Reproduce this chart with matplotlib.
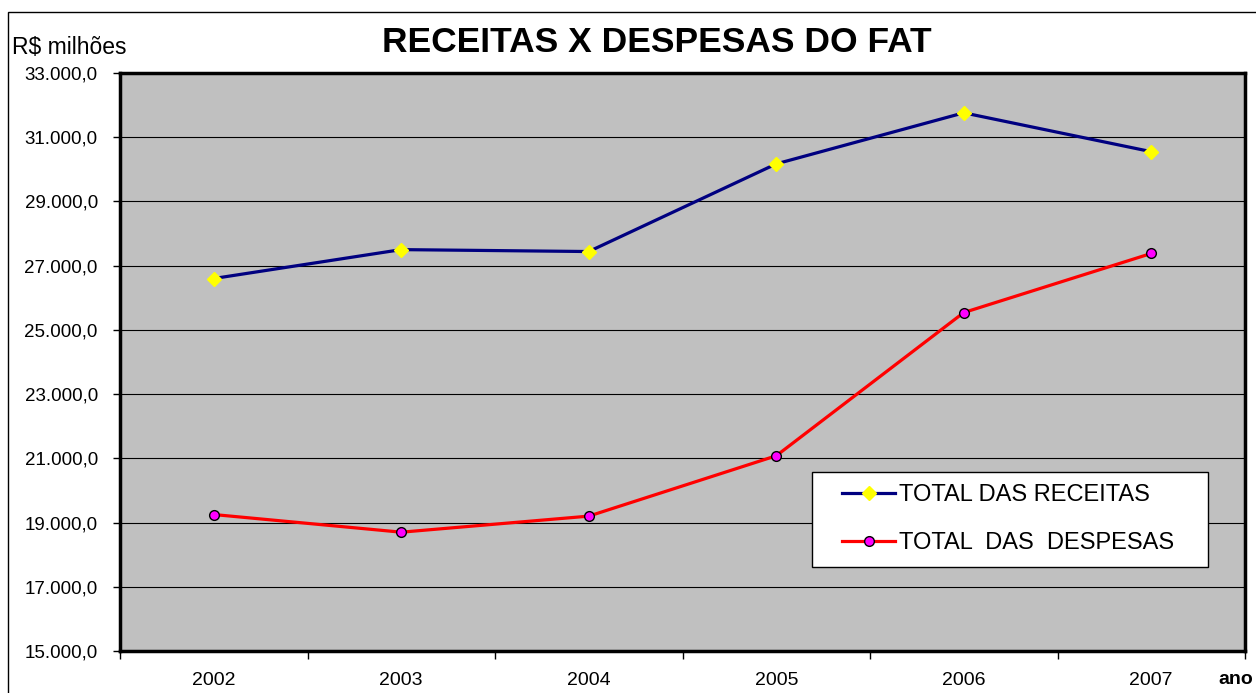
import matplotlib.pyplot as plt
from matplotlib.patches import Rectangle
from matplotlib.ticker import FuncFormatter, FixedLocator, NullFormatter

plt.rcParams['font.family'] = ['Liberation Sans', 'DejaVu Sans']

anos = ['2002', '2003', '2004', '2005', '2006', '2007']
receitas = [26600, 27500, 27440, 30170, 31760, 30550]
despesas = [19250, 18700, 19200, 21080, 25540, 27380]


def formato_br(v, pos):
    s = f"{v:,.1f}"
    return s.replace(',', 'X').replace('.', ',').replace('X', '.')


fig = plt.figure(figsize=(12.56, 6.93), dpi=100)
ax = fig.add_axes([120 / 1256, 1 - 651 / 693, (1245 - 120) / 1256, (651 - 73) / 693])
ax.set_facecolor('#c0c0c0')

# moldura externa do grafico
fig.patches.append(Rectangle((8 / 1256, -0.05), 1.1, 1 - 12 / 693 + 0.05,
                             transform=fig.transFigure, fill=False,
                             edgecolor='black', linewidth=1, zorder=0))

x = range(len(anos))
ax.plot(x, receitas, color='#000080', linewidth=2.3, marker='D', markersize=7.5,
        markerfacecolor='#ffff00', markeredgecolor='#ffff00',
        label='TOTAL DAS RECEITAS', zorder=3)
ax.plot(x, despesas, color='#ff0000', linewidth=2.3, marker='o', markersize=7,
        markerfacecolor='#ff00ff', markeredgecolor='black', markeredgewidth=1,
        label='TOTAL  DAS  DESPESAS', zorder=3)

ax.set_xlim(-0.5, len(anos) - 0.5)
ax.set_ylim(15000, 33000)
ax.set_yticks(range(15000, 33001, 2000))
ax.yaxis.set_major_formatter(FuncFormatter(formato_br))
ax.grid(True, axis='y', color='black', linewidth=0.8)
ax.set_axisbelow(True)

ax.set_xticks(list(x))
ax.set_xticklabels(anos)
ax.xaxis.set_minor_locator(FixedLocator([i - 0.5 for i in range(len(anos) + 1)]))
ax.xaxis.set_minor_formatter(NullFormatter())
ax.tick_params(axis='x', which='major', length=0, pad=15, labelsize=14)
ax.tick_params(axis='x', which='minor', length=6, width=1, direction='out')
ax.tick_params(axis='y', length=5, width=1, direction='out', labelsize=13.5, pad=11)

for lado in ['left', 'right', 'top', 'bottom']:
    ax.spines[lado].set_linewidth(2.5)
    ax.spines[lado].set_color('black')

fig.text(657 / 1256, 1 - 43 / 693, 'RECEITAS X DESPESAS DO FAT', ha='center',
         va='center', fontsize=25.5, fontweight='bold')
fig.text(12 / 1256, 1 - 47 / 693, 'R$ milhões', ha='left', va='center', fontsize=16.5)
fig.text(1253 / 1256, 1 - 680 / 693, 'ano', ha='right', va='center', fontsize=14,
         fontweight='bold')

# caixa da legenda
ax.add_patch(Rectangle(((812 - 120) / 1125, (651 - 567) / 578),
                       (1208 - 812) / 1125, (567 - 472) / 578,
                       transform=ax.transAxes, facecolor='white',
                       edgecolor='black', linewidth=1, zorder=4))
leg = ax.legend(loc='upper left', bbox_to_anchor=((842 - 120) / 1125, (651 - 484) / 578),
                fontsize=17, frameon=False, borderpad=0, labelspacing=1.12,
                handlelength=2.25, handletextpad=0.15, borderaxespad=0)
leg.set_zorder(5)

fig.savefig('out.png', dpi=100)
